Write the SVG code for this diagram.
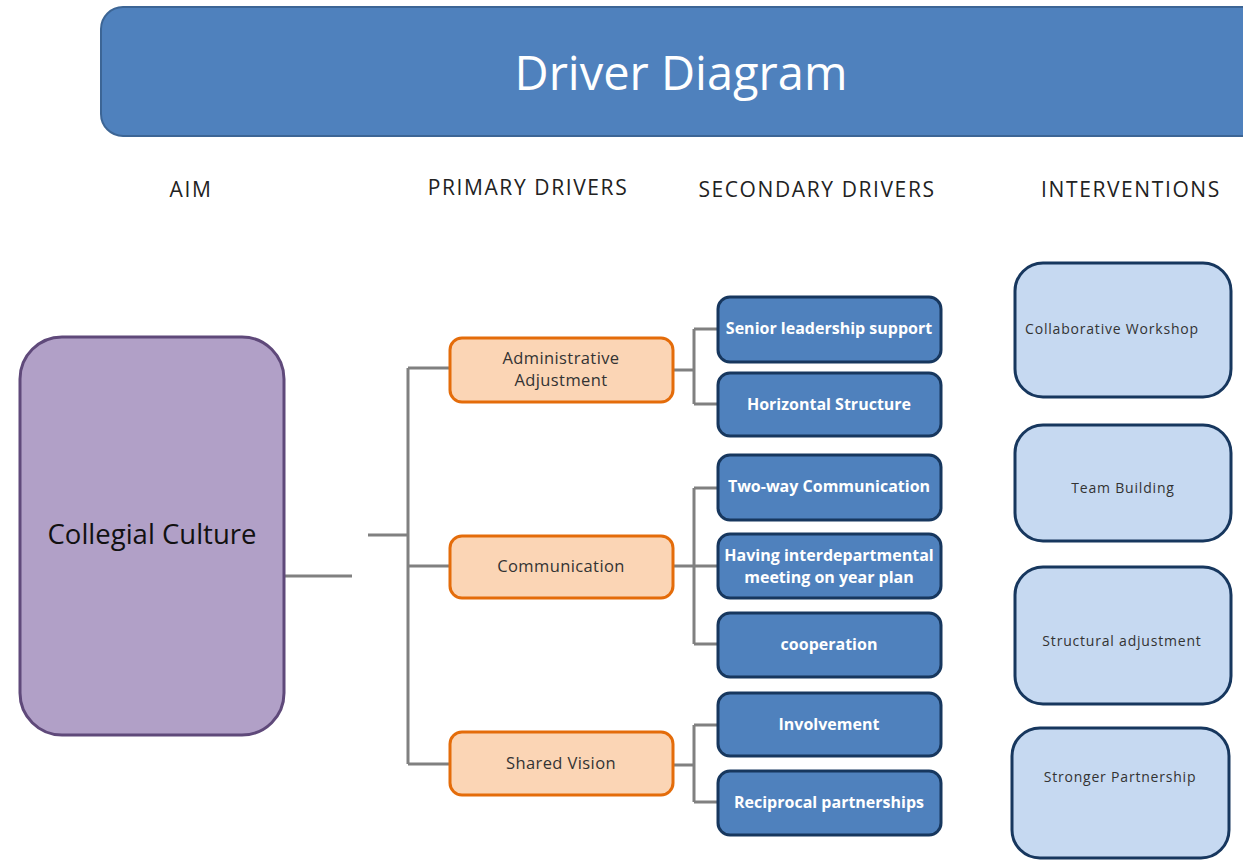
<svg xmlns="http://www.w3.org/2000/svg" width="1243" height="860" viewBox="0 0 1243 860">
<style>
text{font-family:"Open Sans","Liberation Sans",sans-serif;text-anchor:middle;}
.hdr{font-size:21px;fill:#222;letter-spacing:1.6px;}
.title{font-size:47px;fill:#fff;}
.aim{fill:#b1a0c7;stroke:#5f497a;stroke-width:3;}
.pri{fill:#fbd5b5;stroke:#e46c0a;stroke-width:3;}
.sec{fill:#4f81bd;stroke:#17375e;stroke-width:3;}
.int{fill:#c6d9f1;stroke:#17375e;stroke-width:3;}
.pt{font-size:16.5px;fill:#333;letter-spacing:0.4px;}
.st{font-size:16px;fill:#fff;font-weight:bold;}
.it{font-size:14px;fill:#333;letter-spacing:0.8px;}
.conn path{fill:none;stroke:#808080;stroke-width:3;}
</style>
<rect width="1243" height="860" fill="#fff"/>
<g id="title">
<rect x="101" y="7" width="1170" height="129" rx="22" fill="#4f81bd" stroke="#3c6595" stroke-width="2"/>
<text class="title" x="681" y="90">Driver Diagram</text>
</g>
<g id="headers">
<text class="hdr" x="191" y="197">AIM</text>
<text class="hdr" x="528" y="195">PRIMARY DRIVERS</text>
<text class="hdr" x="817" y="197">SECONDARY DRIVERS</text>
<text class="hdr" x="1131" y="197">INTERVENTIONS</text>
</g>
<g class="conn" id="connectors">
<path d="M280 576 H352"/>
<path d="M368 535 H408"/>
<path d="M408 368 V764"/>
<path d="M408 368 H450 M408 566 H450 M408 764 H450"/>
<path d="M673 370 H694 M694 329 V404 M694 329 H718 M694 404 H718"/>
<path d="M673 566 H718 M694 488 V644 M694 488 H718 M694 644 H718"/>
<path d="M673 765 H694 M694 725 V802 M694 725 H718 M694 802 H718"/>
</g>
<g id="aim">
<rect class="aim" x="20" y="337" width="264" height="398" rx="42"/>
<text x="152" y="544" style="font-size:27.5px;fill:#111;">Collegial Culture</text>
</g>
<g id="p1"><rect class="pri" x="450" y="338" width="223" height="64" rx="12"/>
<text class="pt" x="561" y="364">Administrative</text><text class="pt" x="561" y="386">Adjustment</text></g>
<g id="p2"><rect class="pri" x="450" y="536" width="223" height="62" rx="12"/>
<text class="pt" x="561" y="572">Communication</text></g>
<g id="p3"><rect class="pri" x="450" y="732" width="223" height="63" rx="12"/>
<text class="pt" x="561" y="769">Shared Vision</text></g>
<g id="s1"><rect class="sec" x="718" y="297" width="223" height="65" rx="12"/>
<text class="st" x="829" y="334">Senior leadership support</text></g>
<g id="s2"><rect class="sec" x="718" y="373" width="223" height="63" rx="12"/>
<text class="st" x="829" y="410">Horizontal Structure</text></g>
<g id="s3"><rect class="sec" x="718" y="455" width="223" height="65" rx="12"/>
<text class="st" x="829" y="492">Two-way Communication</text></g>
<g id="s4"><rect class="sec" x="718" y="534" width="223" height="64" rx="12"/>
<text class="st" x="829" y="561">Having interdepartmental</text><text class="st" x="829" y="583">meeting on year plan</text></g>
<g id="s5"><rect class="sec" x="718" y="613" width="223" height="64" rx="12"/>
<text class="st" x="829" y="650">cooperation</text></g>
<g id="s6"><rect class="sec" x="718" y="693" width="223" height="63" rx="12"/>
<text class="st" x="829" y="730">Involvement</text></g>
<g id="s7"><rect class="sec" x="718" y="771" width="223" height="64" rx="12"/>
<text class="st" x="829" y="808">Reciprocal partnerships</text></g>
<g id="i1"><rect class="int" x="1015" y="263" width="216" height="134" rx="28"/>
<text class="it" x="1112" y="334">Collaborative Workshop</text></g>
<g id="i2"><rect class="int" x="1015" y="425" width="216" height="116" rx="28"/>
<text class="it" x="1123" y="493">Team Building</text></g>
<g id="i3"><rect class="int" x="1015" y="567" width="216" height="137" rx="28"/>
<text class="it" x="1122" y="646">Structural adjustment</text></g>
<g id="i4"><rect class="int" x="1012" y="728" width="217" height="130" rx="28"/>
<text class="it" x="1120" y="782">Stronger Partnership</text></g>
</svg>
